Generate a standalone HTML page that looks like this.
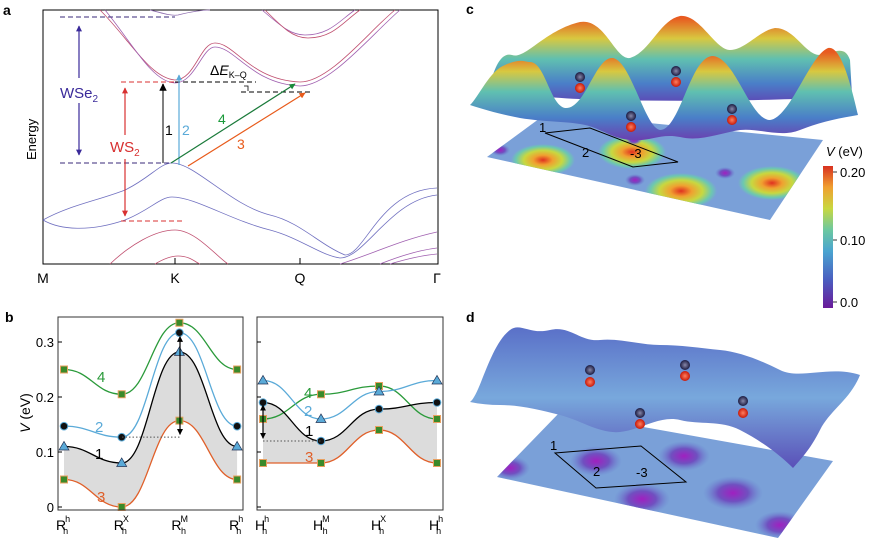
<!DOCTYPE html>
<html><head><meta charset="utf-8"><style>
body{margin:0;background:#fff;width:879px;height:545px;overflow:hidden;font-family:"Liberation Sans",sans-serif}
svg{position:absolute;left:0;top:0}
</style></head><body>
<svg width="879" height="545" viewBox="0 0 879 545" font-family="Liberation Sans, sans-serif">
<defs>
<linearGradient id="cb" x1="0" y1="1" x2="0" y2="0">
<stop offset="0" stop-color="#6a1a9a"/><stop offset="0.2" stop-color="#4a5ec0"/><stop offset="0.4" stop-color="#4aa4d0"/><stop offset="0.55" stop-color="#6cc8a0"/><stop offset="0.7" stop-color="#c8d840"/><stop offset="0.85" stop-color="#f0a030"/><stop offset="1" stop-color="#d83020"/></linearGradient>
<radialGradient id="hot"><stop offset="0" stop-color="#e03020"/><stop offset="0.3" stop-color="#f0a030"/><stop offset="0.6" stop-color="#c8d840"/><stop offset="0.85" stop-color="#6cc8b0"/><stop offset="1" stop-color="#6cc8b0" stop-opacity="0"/></radialGradient>
<radialGradient id="cold"><stop offset="0" stop-color="#a020c0"/><stop offset="0.5" stop-color="#7050c0"/><stop offset="1" stop-color="#6a80d0" stop-opacity="0"/></radialGradient>
<linearGradient id="backc" gradientUnits="userSpaceOnUse" x1="0" y1="18" x2="0" y2="100"><stop offset="0" stop-color="#e85a20"/><stop offset="0.25" stop-color="#d8c840"/><stop offset="0.5" stop-color="#60c0b0"/><stop offset="0.8" stop-color="#4a7ec8"/><stop offset="1" stop-color="#5a50b8"/></linearGradient>
<linearGradient id="frontc" gradientUnits="userSpaceOnUse" x1="0" y1="52" x2="0" y2="140"><stop offset="0" stop-color="#e85a20"/><stop offset="0.22" stop-color="#d8c840"/><stop offset="0.45" stop-color="#60c0b0"/><stop offset="0.75" stop-color="#4a7ec8"/><stop offset="1" stop-color="#6a40b0"/></linearGradient>
<linearGradient id="surfd" x1="0" y1="0" x2="0" y2="1"><stop offset="0" stop-color="#5a70c8"/><stop offset="0.5" stop-color="#78a8dc"/><stop offset="1" stop-color="#5a50b8"/></linearGradient>
<radialGradient id="ball1"><stop offset="0" stop-color="#ff8060"/><stop offset="1" stop-color="#c81808"/></radialGradient>
<radialGradient id="ball2"><stop offset="0" stop-color="#8888aa"/><stop offset="1" stop-color="#1a1a40"/></radialGradient>
<marker id="ak" viewBox="0 0 10 10" refX="9" refY="5" markerWidth="5" markerHeight="5" orient="auto"><path d="M0,0L10,5L0,10z" fill="#000"/></marker>
<marker id="ab" viewBox="0 0 10 10" refX="9" refY="5" markerWidth="5" markerHeight="5" orient="auto"><path d="M0,0L10,5L0,10z" fill="#5aaad8"/></marker>
<marker id="ag" viewBox="0 0 10 10" refX="9" refY="5" markerWidth="5" markerHeight="5" orient="auto"><path d="M0,0L10,5L0,10z" fill="#1a8a3a"/></marker>
<marker id="ao" viewBox="0 0 10 10" refX="9" refY="5" markerWidth="5" markerHeight="5" orient="auto"><path d="M0,0L10,5L0,10z" fill="#e85a1a"/></marker>
<marker id="ar" viewBox="0 0 10 10" refX="9" refY="5" markerWidth="5" markerHeight="5" orient="auto-start-reverse"><path d="M0,0L10,5L0,10z" fill="#d83030"/></marker>
<marker id="ap" viewBox="0 0 10 10" refX="9" refY="5" markerWidth="5" markerHeight="5" orient="auto-start-reverse"><path d="M0,0L10,5L0,10z" fill="#3a2a9a"/></marker>
<marker id="ak2" viewBox="0 0 10 10" refX="9" refY="5" markerWidth="5" markerHeight="5" orient="auto-start-reverse"><path d="M0,0L10,5L0,10z" fill="#000"/></marker>
</defs>

<!-- Panel a -->
<g>
<text x="3" y="15" font-weight="bold" font-size="14">a</text>
<rect x="43" y="10" width="395" height="254" fill="none" stroke="#000" stroke-width="1"/>
<g fill="none" stroke-width="0.8">
<path d="M100,10 C130,40 150,78 175,80 C195,80 200,43 215,43 C235,43 250,80 300,82 C330,82 370,30 395,10" stroke="#c05070"/>
<path d="M105,10 C133,44 152,82 175,83 C195,83 202,47 215,47 C235,47 252,84 300,86 C330,86 372,34 400,10" stroke="#a060b0"/>
<path d="M150,10 C165,14 172,16 178,15 C190,12 200,10 210,10" stroke="#9070b0"/>
<path d="M262,10 C280,25 290,35 305,35 C330,35 340,20 355,10" stroke="#a060b0"/>
<path d="M265,10 C283,28 293,38 308,38 C333,38 343,22 360,10" stroke="#c05070"/>
<path d="M43,220 C70,205 100,200 125,190 C150,178 160,163 172,163 C195,163 230,205 270,215 C300,222 320,245 345,255 C365,255 380,190 437,188" stroke="#7070c0"/>
<path d="M43,220 C60,230 90,232 125,220 C150,210 160,197 172,197 C195,197 230,220 270,230 C300,238 320,255 340,258 C365,258 390,200 437,195" stroke="#7070c0"/>
<path d="M110,264 C130,245 155,230 175,230 C195,230 215,255 228,264" stroke="#c05070"/>
<path d="M155,264 C165,258 172,256 178,256 C190,256 195,262 200,264" stroke="#c05070"/>
<path d="M340,264 C370,255 400,240 437,232" stroke="#a060b0"/>
<path d="M380,264 C400,256 420,250 437,248" stroke="#a060b0"/>
<path d="M390,264 C410,258 425,255 437,254" stroke="#a060b0"/>
</g>
<g stroke-dasharray="5,3" stroke-width="1" fill="none">
<line x1="60" y1="17" x2="175" y2="17" stroke="#3a2a7a"/>
<line x1="60" y1="163" x2="170" y2="163" stroke="#3a2a7a"/>
<line x1="121" y1="82" x2="175" y2="82" stroke="#d83030"/>
<line x1="175" y1="82" x2="256" y2="82" stroke="#000"/>
<line x1="241" y1="92" x2="312" y2="92" stroke="#000"/>
<line x1="121" y1="221" x2="183" y2="221" stroke="#d83030"/>
</g>
<line x1="79" y1="26" x2="79" y2="155" stroke="#3a2a9a" stroke-width="1.2" marker-start="url(#ap)" marker-end="url(#ap)"/>
<rect x="60" y="78" width="40" height="25" fill="#fff"/>
<text x="60" y="98" font-size="15" fill="#3a2a9a">WSe<tspan font-size="10" dy="4">2</tspan></text>
<line x1="125" y1="88" x2="125" y2="216" stroke="#d83030" stroke-width="1.2" marker-start="url(#ar)" marker-end="url(#ar)"/>
<rect x="108" y="135" width="35" height="24" fill="#fff"/>
<text x="110" y="152" font-size="15" fill="#d83030">WS<tspan font-size="10" dy="4">2</tspan></text>
<line x1="163" y1="163" x2="163" y2="84" stroke="#555" stroke-width="1.5" marker-end="url(#ak)"/>
<line x1="179" y1="165" x2="179" y2="75" stroke="#5aaad8" stroke-width="1.2" marker-end="url(#ab)"/>
<line x1="171" y1="163" x2="295" y2="84" stroke="#1a7a3a" stroke-width="1.2" marker-end="url(#ag)"/>
<line x1="188" y1="166" x2="305" y2="93" stroke="#e85a1a" stroke-width="1.2" marker-end="url(#ao)"/>
<text x="165" y="135" font-size="14">1</text>
<text x="182" y="135" font-size="14" fill="#5aaad8">2</text>
<text x="218" y="124" font-size="14" fill="#1a9a3a">4</text>
<text x="237" y="149" font-size="14" fill="#e85a1a">3</text>
<text x="210" y="75" font-size="14">Δ<tspan font-style="italic">E</tspan><tspan font-size="9" dy="3">K–Q</tspan></text>
<path d="M244,86 L248,86 L248,91" fill="none" stroke="#000" stroke-width="0.8"/>
<text x="36" y="160" font-size="13" transform="rotate(-90 36 160)">Energy</text>
<g font-size="14" text-anchor="middle">
<line x1="175" y1="258" x2="175" y2="264" stroke="#000"/><line x1="300" y1="258" x2="300" y2="264" stroke="#000"/>
<text x="43" y="283">M</text><text x="175" y="283">K</text><text x="300" y="283">Q</text><text x="437" y="283">Γ</text>
</g>
</g>

<!-- Panel b -->
<g>
<text x="5" y="322" font-weight="bold" font-size="14">b</text>
<g id="bplot"></g>
</g>

<!-- Panel c -->
<g>
<text x="466" y="14" font-weight="bold" font-size="14">c</text>
<polygon points="487,157 547,113 823,140 770,220" fill="#7aa0d8"/>
<clipPath id="clipc"><polygon points="487,157 547,113 823,140 770,220"/></clipPath>
<g clip-path="url(#clipc)">
<ellipse cx="543" cy="160" rx="32" ry="16" fill="url(#hot)"/><ellipse cx="632" cy="152" rx="34" ry="17" fill="url(#hot)"/>
<ellipse cx="681" cy="191" rx="36" ry="18" fill="url(#hot)"/><ellipse cx="772" cy="183" rx="34" ry="17" fill="url(#hot)"/>
<ellipse cx="500" cy="150" rx="10" ry="6" fill="url(#cold)"/><ellipse cx="634" cy="140" rx="8" ry="5" fill="url(#cold)"/>
<ellipse cx="635" cy="180" rx="10" ry="6" fill="url(#cold)"/><ellipse cx="725" cy="173" rx="10" ry="6" fill="url(#cold)"/>
</g>
<polygon points="545,133 590,128 678,162 633,167" fill="none" stroke="#000" stroke-width="1"/>
<path d="M490,85 C495,65 502,52 512,55 C525,60 545,30 580,22 C605,18 615,60 630,58 C650,52 660,20 680,16 C700,14 715,50 730,50 C745,50 760,30 775,28 C795,28 805,55 820,55 C835,52 845,45 850,60 L852,95 C820,100 700,102 600,100 C550,98 510,95 490,85 Z" fill="url(#backc)"/>
<path d="M470,105 C478,98 490,70 505,65 C520,58 525,62 530,62 C545,62 550,105 565,108 C585,110 595,58 612,58 C630,58 645,128 660,130 C680,130 690,58 712,56 C735,56 750,120 770,120 C790,118 810,55 828,48 C840,45 850,80 858,115 C840,118 820,122 800,130 C780,138 760,128 740,130 C720,133 700,142 680,137 C660,133 650,142 630,140 C610,138 600,127 580,124 C560,121 545,122 520,118 C500,114 485,110 470,105 Z" fill="url(#frontc)"/>
<g>
<circle cx="580" cy="77" r="5" fill="url(#ball2)"/><circle cx="580" cy="88" r="5" fill="url(#ball1)"/>
<circle cx="676" cy="71" r="5" fill="url(#ball2)"/><circle cx="676" cy="82" r="5" fill="url(#ball1)"/>
<circle cx="631" cy="116" r="5" fill="url(#ball2)"/><circle cx="631" cy="127" r="5" fill="url(#ball1)"/>
<circle cx="732" cy="109" r="5" fill="url(#ball2)"/><circle cx="732" cy="120" r="5" fill="url(#ball1)"/>
</g>
<text x="539" y="132" font-size="13">1</text>
<text x="582" y="157" font-size="13">2</text>
<text x="630" y="158" font-size="13">-3</text>
</g>

<!-- colorbar -->
<g>
<text x="826" y="156" font-size="13"><tspan font-style="italic">V</tspan> (eV)</text>
<rect x="823" y="166" width="10" height="142" fill="url(#cb)"/>
<g stroke="#000" stroke-width="0.8"><line x1="833" y1="172" x2="837" y2="172"/><line x1="833" y1="240" x2="837" y2="240"/><line x1="833" y1="302" x2="837" y2="302"/></g>
<g font-size="13"><text x="840" y="177">0.20</text><text x="840" y="245">0.10</text><text x="840" y="307">0.0</text></g>
</g>

<!-- Panel d -->
<g>
<text x="466" y="322" font-weight="bold" font-size="14">d</text>
<polygon points="497,477 560,412 833,461 778,538" fill="#7aa0d8"/>
<clipPath id="clipd"><polygon points="497,477 560,412 833,461 778,538"/></clipPath>
<g clip-path="url(#clipd)" fill="url(#cold)">
<ellipse cx="510" cy="468" rx="20" ry="12"/><ellipse cx="596" cy="461" rx="26" ry="15"/><ellipse cx="684" cy="456" rx="26" ry="15"/>
<ellipse cx="642" cy="499" rx="28" ry="16"/><ellipse cx="733" cy="493" rx="30" ry="17"/><ellipse cx="780" cy="525" rx="25" ry="14"/>
</g>
<polygon points="555,453 641,446 686,482 596,488" fill="none" stroke="#000" stroke-width="1"/>
<path d="M470,402 C480,395 490,345 510,330 C520,322 530,335 550,330 C570,325 580,342 600,340 C620,338 640,345 660,345 C680,345 700,348 720,350 C740,352 760,360 780,370 C800,380 830,365 860,375 C850,400 830,410 820,430 C810,450 800,460 793,468 C780,455 760,440 740,430 C720,420 700,425 680,420 C660,415 640,430 620,432 C600,434 580,420 560,415 C540,410 520,405 500,405 C490,405 480,404 470,402 Z" fill="url(#surfd)"/>
<g>
<circle cx="590" cy="370" r="5" fill="url(#ball2)"/><circle cx="590" cy="382" r="5" fill="url(#ball1)"/>
<circle cx="685" cy="365" r="5" fill="url(#ball2)"/><circle cx="685" cy="376" r="5" fill="url(#ball1)"/>
<circle cx="640" cy="413" r="5" fill="url(#ball2)"/><circle cx="640" cy="424" r="5" fill="url(#ball1)"/>
<circle cx="743" cy="401" r="5" fill="url(#ball2)"/><circle cx="743" cy="413" r="5" fill="url(#ball1)"/>
</g>
<text x="550" y="450" font-size="13">1</text>
<text x="593" y="476" font-size="13">2</text>
<text x="636" y="477" font-size="13">-3</text>
</g>
</svg>
<script>
const leftLabels=["R","R","R","R"], leftSup=["h","X","M","h"];
const rightLabels=["H","H","H","H"], rightSup=["h","M","X","h"];
const yTicks=[0,0.1,0.2,0.3];
const L1=[0.11,0.08,0.282,0.11], L2=[0.147,0.127,0.317,0.147], L3=[0.05,0.0,0.157,0.05], L4=[0.25,0.205,0.335,0.25];
const R1=[0.19,0.12,0.178,0.19], R2=[0.23,0.16,0.21,0.23], R3=[0.08,0.08,0.14,0.08], R4=[0.16,0.205,0.22,0.16];
const NS="http://www.w3.org/2000/svg";
const g=document.getElementById('bplot');
function yS(v){return 507-550*v;}
function xL(i){return 64+i*57.7;}
function xR(i){return 263+i*58;}
function mk(t,a){const e=document.createElementNS(NS,t);for(const k in a)e.setAttribute(k,a[k]);g.appendChild(e);return e;}
function smooth(xs,ys){
  let d='M'+xs[0]+','+ys[0];
  for(let i=0;i<xs.length-1;i++){const dx=(xs[i+1]-xs[i])/2.2;d+=' C'+(xs[i]+dx)+','+ys[i]+' '+(xs[i+1]-dx)+','+ys[i+1]+' '+xs[i+1]+','+ys[i+1];}
  return d;
}
function pts(vals,xf){return {xs:vals.map((v,i)=>xf(i)),ys:vals.map(v=>yS(v))};}
function panel(xf,s1,s2,s3,s4,x0,x1,labs,sups,left){
  const a=pts(s1,xf),c=pts(s3,xf);
  let d=smooth(a.xs,a.ys);
  const rx=c.xs.slice().reverse(),ry=c.ys.slice().reverse();
  d+=' L'+rx[0]+','+ry[0]+smooth(rx,ry).replace(/^M[^C]*/,' ')+' Z';
  let e=mk('path',{d:d,fill:'#dcdcdc'});
  
  
  const series=[[s4,'#2a9a3a','sq','4'],[s2,'#5aaad8',left?'ci':'tr','2'],[s1,'#000',left?'tr':'ci','1'],[s3,'#e0602a','sq','3']];
  series.forEach(s=>{
    const p=pts(s[0],xf);
    let l=mk('path',{d:smooth(p.xs,p.ys),fill:'none',stroke:s[1],'stroke-width':1.3});
    
    
    p.xs.forEach((x,i)=>{
      const y=p.ys[i];let m;
      if(s[2]=='sq')m=mk('rect',{x:x-3.5,y:y-3.5,width:7,height:7,fill:'#3a8a2a',stroke:'#e8a060','stroke-width':1});
      else if(s[2]=='ci')m=mk('circle',{cx:x,cy:y,r:3.8,fill:'#111',stroke:'#5aaad8','stroke-width':1});
      else m=mk('polygon',{points:(x-5)+','+(y+3.5)+' '+(x+5)+','+(y+3.5)+' '+x+','+(y-5),fill:'#5aaad8',stroke:'#235','stroke-width':0.7});
      
      
    });
  });
  let f=mk('rect',{x:x0,y:317,width:x1-x0,height:193,fill:'none',stroke:'#333','stroke-width':1});
  
  
  yTicks.forEach(t=>{mk('line',{x1:x0,x2:x0+4,y1:yS(t),y2:yS(t),stroke:'#000'});
    if(left){let tx=mk('text',{x:x0-4,y:yS(t)+5,'font-size':13,'text-anchor':'end'});tx.textContent=t==0?'0':t.toFixed(1);
    
    }});
  labs.forEach((lb,i)=>{let tx=mk('text',{x:xf(i)-8,y:530,'font-size':14});tx.innerHTML=lb+'<tspan font-size="9" dy="-8" dx="-1">'+sups[i]+'</tspan><tspan font-size="9" dy="12" dx="-7">h</tspan>';
    
    });
}
panel(xL,L1,L2,L3,L4,58,243,leftLabels,leftSup,true);
panel(xR,R1,R2,R3,R4,257,443,rightLabels,rightSup,false);
mk('line',{x1:122,x2:180,y1:yS(0.127),y2:yS(0.127),stroke:'#555','stroke-dasharray':'1.5,2'});
let a1=mk('line',{x1:180,x2:180,y1:yS(0.31),y2:yS(0.132),stroke:'#000','stroke-width':1.2,'marker-start':'url(#ak2)','marker-end':'url(#ak2)'});


mk('line',{x1:263,x2:321,y1:yS(0.12),y2:yS(0.12),stroke:'#555','stroke-dasharray':'1.5,2'});
let a2=mk('line',{x1:263,x2:263,y1:yS(0.185),y2:yS(0.125),stroke:'#000','stroke-width':1.2,'marker-start':'url(#ak2)','marker-end':'url(#ak2)'});


[[97,382,'#2a9a3a','4'],[95,432,'#5aaad8','2'],[95,459,'#000','1'],[97,502,'#e0602a','3'],[304,398,'#2a9a3a','4'],[304,416,'#5aaad8','2'],[305,436,'#000','1'],[305,462,'#e0602a','3']].forEach(t=>{
 let tx=mk('text',{x:t[0],y:t[1],'font-size':15,fill:t[2]});tx.textContent=t[3];
 
 });
let yt=mk('text',{x:30,y:413,'font-size':14,'text-anchor':'middle',transform:'rotate(-90 30 413)'});
yt.innerHTML='<tspan font-style="italic">V</tspan> (eV)';


</script>
</body></html>
